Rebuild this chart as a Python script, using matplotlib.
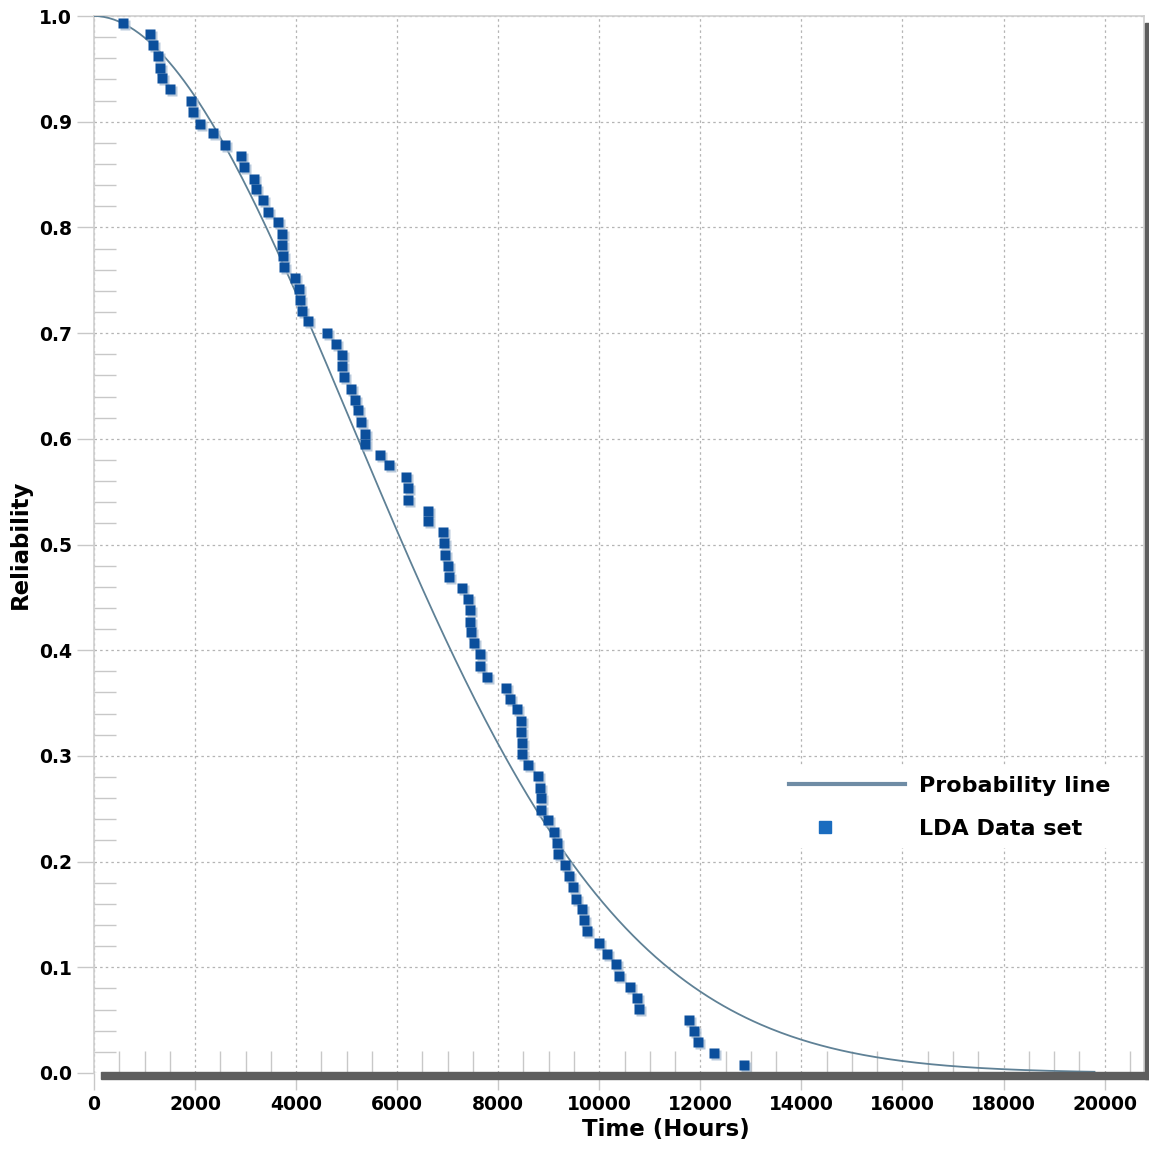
import numpy as np
import matplotlib
matplotlib.use("Agg")
import matplotlib.pyplot as plt
import matplotlib.transforms as mtransforms
from matplotlib.lines import Line2D
from matplotlib.patches import Rectangle
from matplotlib.ticker import MultipleLocator
from matplotlib.legend_handler import HandlerLine2D

# LDA data set (hours, reliability)
hours = [575, 1102, 1167, 1260, 1305, 1339, 1511, 1919, 1952, 2091,
         2348, 2585, 2908, 2975, 3173, 3204, 3343, 3436, 3647, 3727,
         3727, 3746, 3752, 3970, 4055, 4069, 4114, 4227, 4613, 4781,
         4900, 4905, 4945, 5077, 5163, 5216, 5281, 5354, 5354, 5665,
         5843, 6171, 6205, 6219, 6614, 6614, 6907, 6927, 6951, 7002,
         7030, 7283, 7396, 7451, 7451, 7467, 7530, 7635, 7643, 7781,
         8147, 8227, 8371, 8454, 8454, 8474, 8474, 8598, 8796, 8830,
         8842, 8842, 8980, 9107, 9158, 9186, 9316, 9409, 9488, 9542,
         9667, 9696, 9759, 9999, 10155, 10333, 10392, 10616, 10754, 10794,
         11783, 11882, 11955, 12264, 12871]
reliability = [0.993, 0.983, 0.973, 0.962, 0.951, 0.941, 0.931, 0.920, 0.909, 0.898,
               0.889, 0.878, 0.868, 0.857, 0.846, 0.836, 0.826, 0.815, 0.805, 0.794,
               0.783, 0.773, 0.763, 0.752, 0.742, 0.731, 0.721, 0.711, 0.700, 0.690,
               0.679, 0.669, 0.658, 0.647, 0.637, 0.627, 0.616, 0.605, 0.595, 0.585,
               0.575, 0.564, 0.553, 0.542, 0.532, 0.522, 0.512, 0.501, 0.490, 0.480,
               0.469, 0.459, 0.448, 0.438, 0.427, 0.417, 0.407, 0.396, 0.385, 0.375,
               0.364, 0.354, 0.344, 0.333, 0.323, 0.312, 0.302, 0.291, 0.281, 0.270,
               0.260, 0.249, 0.239, 0.228, 0.218, 0.207, 0.197, 0.186, 0.176, 0.165,
               0.155, 0.145, 0.134, 0.123, 0.113, 0.103, 0.092, 0.081, 0.071, 0.061,
               0.050, 0.040, 0.029, 0.019, 0.008]

# fitted Weibull probability line
beta = 1.94
eta = 7386
t_end = 19800

x_ticks = [0, 2000, 4000, 6000, 8000, 10000, 12000, 14000, 16000, 18000, 20000]
y_ticks = [0.0, 0.1, 0.2, 0.3, 0.4, 0.5, 0.6, 0.7, 0.8, 0.9, 1.0]


class LeftMarker(HandlerLine2D):
    # put the legend square left of centre, as in the original
    def get_xdata(self, legend, xdescent, ydescent, width, height, fontsize):
        x = -xdescent + width * 0.31
        return np.array([x, x]), np.array([x])


W, H = 1149, 1150
fig = plt.figure(figsize=(W / 100, H / 100), dpi=100)
ax = fig.add_axes([94 / W, (H - 1073) / H, (1144 - 94) / W, (1073 - 16) / H])

t = np.linspace(0, t_end, 400)
ax.plot(t, np.exp(-(t / eta) ** beta), color='#5f8196', lw=1.3, zorder=3)

shadow = mtransforms.offset_copy(ax.transData, fig, x=2, y=-2, units='dots')
ax.plot(hours, reliability, 's', ms=7, color='#a9bdd3', mec='none', alpha=0.8,
        transform=shadow, zorder=4)
ax.plot(hours, reliability, 's', ms=7, color='#0b4f9c', mec='none', zorder=5)

ax.set_xlim(0, 20780)
ax.set_ylim(0, 1.0)
ax.set_xticks(x_ticks)
ax.set_yticks(y_ticks)
ax.set_yticklabels([f"{v:.1f}" for v in y_ticks])
ax.xaxis.set_minor_locator(MultipleLocator(500))
ax.yaxis.set_minor_locator(MultipleLocator(0.02))
ax.tick_params(which='major', direction='out', length=12, color='#c8c8c8',
               width=1, labelsize=13.5, pad=4)
ax.tick_params(which='minor', direction='in', length=16, color='#c8c8c8', width=1)
for lab in ax.get_xticklabels() + ax.get_yticklabels():
    lab.set_fontweight('bold')

ax.grid(True, which='major', color='#b4b4b4', linestyle=(0, (2, 2.5)), lw=0.9)
ax.set_axisbelow(True)

for side in ['left', 'top', 'right']:
    ax.spines[side].set_color('#cfcfcf')
    ax.spines[side].set_linewidth(1.2)
ax.spines['bottom'].set_visible(False)

# dark drop shadow along the bottom and right edges of the frame
fig.patches.append(Rectangle((101 / W, (H - 1079) / H), (W - 101) / W, 7 / H,
                             transform=fig.transFigure, color='#5e5e5e', zorder=10))
fig.patches.append(Rectangle((1145 / W, (H - 1079) / H), 5 / W, (1079 - 23) / H,
                             transform=fig.transFigure, color='#5e5e5e', zorder=10))

ax.set_xlabel('Time (Hours)', fontsize=16.5, fontweight='bold')
ax.xaxis.set_label_coords((666 - 94) / 1050, (1073 - 1118) / 1057)
ax.set_ylabel('Reliability', fontsize=16.5, fontweight='bold', labelpad=5)

handles = [Line2D([], [], color='#6f8ca5', lw=3),
           Line2D([], [], marker='s', ls='none', ms=8, color='#1a6cbf')]
leg = ax.legend(handles, ['Probability line', 'LDA Data set'],
                loc='upper left', bbox_to_anchor=(0.643, 0.30),
                prop={'weight': 'bold', 'size': 16}, frameon=True,
                handlelength=5.2, handletextpad=0.65, labelspacing=1.05,
                borderpad=0.4, handler_map={handles[1]: LeftMarker()})
leg.get_frame().set_facecolor('white')
leg.get_frame().set_edgecolor('none')
leg.get_frame().set_alpha(1)

fig.savefig('out.png', dpi=100)
